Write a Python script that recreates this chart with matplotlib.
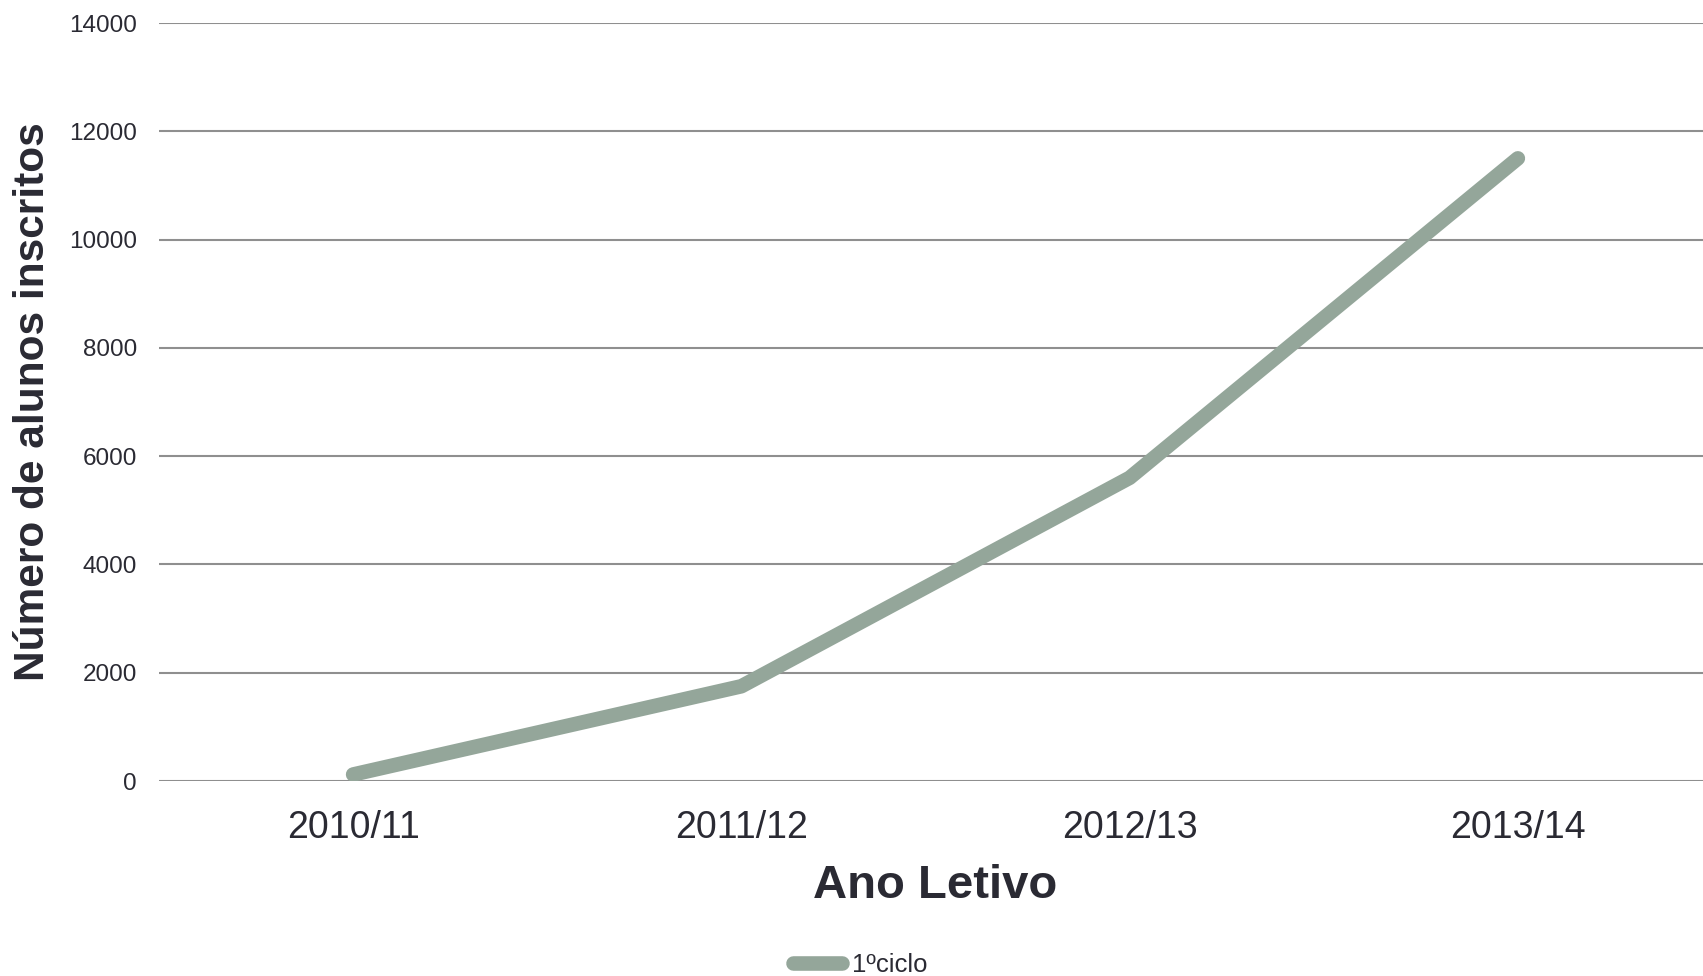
import matplotlib.pyplot as plt

# Number of students enrolled per school year (1º ciclo)
anos = ['2010/11', '2011/12', '2012/13', '2013/14']
alunos = [120, 1750, 5600, 11500]
serie = '1ºciclo'

plt.rcParams['font.family'] = ['Liberation Sans', 'DejaVu Sans']
texto = '#2a2a33'
verde = '#94a69a'

fig = plt.figure(figsize=(17.03, 9.76), dpi=100)
# axes slightly wider than the figure, like the original export
ax = fig.add_axes([159 / 1703, 1 - 781 / 976, 1553 / 1703, (781 - 23) / 976])

x = range(len(anos))
ax.plot(x, alunos, color=verde, linewidth=10.5, solid_capstyle='round',
        solid_joinstyle='round', label=serie, zorder=3)

ax.set_xlim(-0.5, len(anos) - 0.5)
ax.set_ylim(0, 14000)
ax.set_yticks(range(0, 14001, 2000))
ax.set_xticks(list(x))
ax.set_xticklabels(anos)

ax.yaxis.grid(True, color='#8f8f8f', linewidth=1.5)
ax.set_axisbelow(True)
for s in ax.spines.values():
    s.set_visible(False)

ax.tick_params(axis='y', length=0, pad=16, labelsize=17.5, labelcolor=texto)
ax.tick_params(axis='x', length=0, pad=21, labelsize=27, labelcolor=texto)

ax.set_xlabel('Ano Letivo', fontsize=34, fontweight='bold', color=texto, labelpad=13)
ax.set_ylabel('Número de alunos inscritos', fontsize=30.5, fontweight='bold',
              color=texto, labelpad=11)

fig.legend(loc='center', bbox_to_anchor=(860 / 1703, 1 - 965 / 976), frameon=False,
           fontsize=18.5, handlelength=1.9, handletextpad=0.4, labelcolor=texto)

fig.savefig('out.png', dpi=100)
